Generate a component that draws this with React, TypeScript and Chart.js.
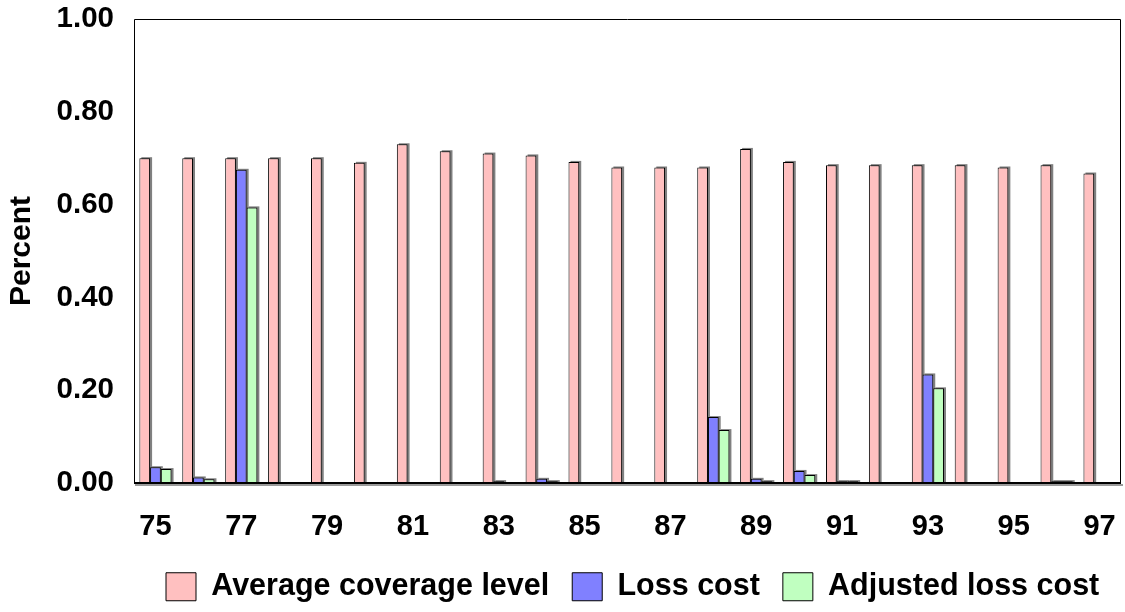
import React, { useEffect, useRef } from "react";
import { Chart, registerables } from "chart.js";

Chart.register(...registerables);

const categories = ["75","76","77","78","79","80","81","82","83","84","85","86","87","88","89","90","91","92","93","94","95","96","97"];
const averageCoverage = [0.70,0.70,0.70,0.70,0.70,0.69,0.73,0.715,0.71,0.706,0.692,0.68,0.68,0.68,0.72,0.692,0.685,0.685,0.685,0.685,0.68,0.685,0.667];
const lossCost = [0.034,0.012,0.675,0,0,0,0,0,0.004,0.009,0,0,0,0.142,0.009,0.026,0.004,0,0.234,0,0,0.004,0];
const adjustedLossCost = [0.030,0.008,0.594,0,0,0,0,0,0,0.004,0,0,0,0.114,0.004,0.017,0.004,0,0.204,0,0,0.004,0];
const yTicks = [0, 0.2, 0.4, 0.6, 0.8, 1.0];

const FONT = "'Liberation Sans', Arial, sans-serif";
const W = 1125;
const H = 612;
const PLOT_LEFT = 134;
const PLOT_RIGHT = 1121;
const PLOT_TOP = 19;
const PLOT_BOTTOM = 483;
const LEGEND_START = 166;

const shadowPlugin = {
  id: "barShadow",
  beforeDatasetsDraw(chart: any) {
    const ctx = chart.ctx;
    ctx.save();
    ctx.fillStyle = "#808080";
    chart.data.datasets.forEach((_: any, di: number) => {
      const meta = chart.getDatasetMeta(di);
      meta.data.forEach((el: any) => {
        const p = el.getProps(["x", "y", "base", "width"], true);
        const h = Math.abs(p.base - p.y);
        if (h < 0.5) return;
        ctx.fillRect(p.x - p.width / 2 + 2, Math.min(p.y, p.base) - 1, p.width, h + 1);
      });
    });
    ctx.restore();
  },
};

const framePlugin = {
  id: "plotFrame",
  afterDatasetsDraw(chart: any) {
    const { ctx, chartArea } = chart;
    const { left, right, top, bottom } = chartArea;
    ctx.save();
    ctx.strokeStyle = "#000";
    ctx.lineWidth = 1;
    ctx.beginPath();
    ctx.moveTo(left + 0.5, bottom);
    ctx.lineTo(left + 0.5, top + 0.5);
    ctx.lineTo(right - 0.5, top + 0.5);
    ctx.lineTo(right - 0.5, bottom);
    ctx.stroke();
    ctx.fillStyle = "#9a9a9a";
    ctx.fillRect(left + 1, bottom + 1, right - left + 1, 2);
    ctx.fillStyle = "#000";
    ctx.fillRect(left, bottom - 1, right - left, 2);
    ctx.restore();
  },
};

const legendShiftPlugin = {
  id: "legendShift",
  afterLayout(chart: any) {
    const lg = chart.legend;
    if (lg) {
      const pad = lg.options.labels.padding;
      lg.left = LEGEND_START - pad;
      lg.right = W + 400;
    }
  },
};

export default function App() {
  const canvasRef = useRef<HTMLCanvasElement | null>(null);

  useEffect(() => {
    if (!canvasRef.current) return;
    const chart = new Chart(canvasRef.current, {
      type: "bar",
      data: {
        labels: categories,
        datasets: [
          {
            label: "Average coverage level",
            data: averageCoverage,
            backgroundColor: "#FFC0C0",
            borderColor: "#000",
            borderWidth: 1,
          },
          {
            label: "Loss cost",
            data: lossCost,
            backgroundColor: "#8080FF",
            borderColor: "#000",
            borderWidth: 1,
          },
          {
            label: "Adjusted loss cost",
            data: adjustedLossCost,
            backgroundColor: "#C0FFC0",
            borderColor: "#000",
            borderWidth: 1,
          },
        ],
      },
      options: {
        responsive: false,
        animation: false,
        datasets: {
          bar: { categoryPercentage: 0.75, barPercentage: 1.0 },
        },
        layout: {
          padding: { left: 0, right: W - PLOT_RIGHT, top: PLOT_TOP, bottom: 0 },
        },
        plugins: {
          tooltip: { enabled: false },
          legend: {
            position: "bottom",
            align: "start",
            labels: {
              color: "#000",
              boxWidth: 30,
              boxHeight: 28,
              padding: 23,
              font: { family: FONT, size: 30.5, weight: "bold" },
            },
          },
        },
        scales: {
          x: {
            grid: { display: false, drawTicks: false },
            border: { display: false },
            ticks: {
              autoSkip: false,
              maxRotation: 0,
              minRotation: 0,
              padding: 27,
              color: "#000",
              font: { family: FONT, size: 29, weight: "bold" },
              callback: (_v: any, i: number) => (i % 2 === 0 ? categories[i] : ""),
            },
            afterFit: (scale: any) => {
              const lh = scale.chart.legend ? scale.chart.legend.height : 0;
              scale.height = H - PLOT_BOTTOM - lh;
              scale.paddingLeft = 0;
              scale.paddingRight = 0;
            },
          },
          y: {
            min: 0,
            max: 1,
            grid: { display: false, drawTicks: false },
            border: { display: false },
            afterBuildTicks: (scale: any) => {
              scale.ticks = yTicks.map((v) => ({ value: v }));
            },
            ticks: {
              padding: 20,
              color: "#000",
              font: { family: FONT, size: 29.5, weight: "bold" },
              callback: (v: any) => Number(v).toFixed(2),
            },
            title: {
              display: true,
              text: "Percent",
              color: "#000",
              padding: { top: 4, bottom: 0 },
              font: { family: FONT, size: 30, weight: "bold" },
            },
            afterFit: (scale: any) => {
              scale.width = PLOT_LEFT;
              scale.paddingTop = 0;
              scale.paddingBottom = 0;
            },
          },
        },
      },
      plugins: [shadowPlugin, framePlugin, legendShiftPlugin],
    });
    return () => chart.destroy();
  }, []);

  return (
    <div style={{ position: "fixed", left: 0, top: 0, width: W, height: H, background: "#fff" }}>
      <canvas ref={canvasRef} width={W} height={H} style={{ display: "block" }} />
    </div>
  );
}
